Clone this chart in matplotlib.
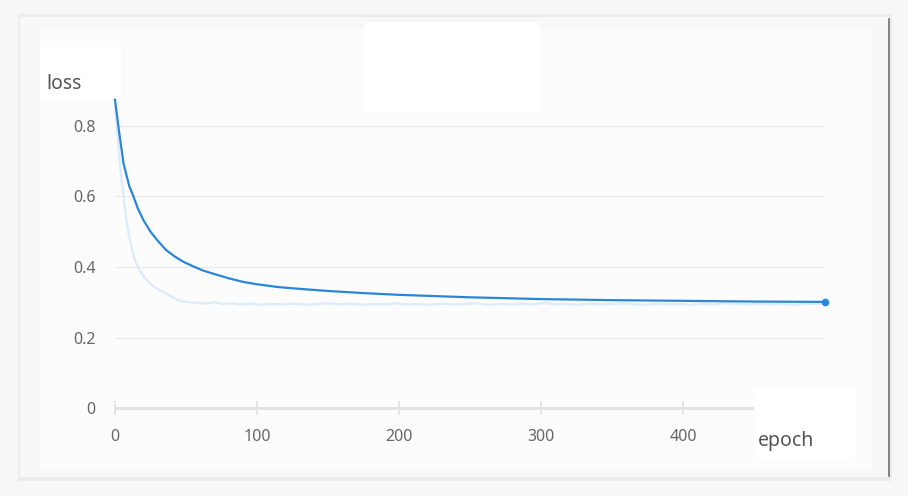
import matplotlib
matplotlib.use('Agg')
import matplotlib.pyplot as plt
from matplotlib.patches import Rectangle, FancyBboxPatch

plt.rcParams['font.family'] = ['Noto Sans', 'DejaVu Sans']

# courbe brute (pâle)
epochs_raw = [0, 2, 4, 6, 8, 10, 12, 14, 17, 20, 24, 28, 32, 36, 41, 45, 50, 55, 60,
              65, 70, 76, 82, 88, 95, 102, 110, 118, 126, 134, 142, 150, 158, 166,
              174, 182, 190, 198, 206, 214, 222, 230, 238, 246, 254, 262, 270, 278,
              286, 294, 302, 310, 318, 326, 334, 342, 350, 358, 366, 374, 382, 390,
              398, 406, 414, 422, 430, 438, 446, 454, 462, 470, 478, 486, 494, 500]
loss_raw = [0.862, 0.76, 0.67, 0.60, 0.535, 0.485, 0.45, 0.42, 0.392, 0.375, 0.356,
            0.342, 0.333, 0.325, 0.313, 0.305, 0.301, 0.299, 0.298, 0.296, 0.300,
            0.295, 0.297, 0.294, 0.296, 0.293, 0.295, 0.294, 0.296, 0.293, 0.295,
            0.297, 0.294, 0.296, 0.293, 0.295, 0.294, 0.297, 0.294, 0.295, 0.293,
            0.296, 0.294, 0.295, 0.297, 0.293, 0.295, 0.294, 0.296, 0.294, 0.298,
            0.294, 0.295, 0.293, 0.296, 0.294, 0.295, 0.297, 0.294, 0.293, 0.296,
            0.294, 0.295, 0.293, 0.296, 0.294, 0.297, 0.295, 0.294, 0.296, 0.294,
            0.295, 0.293, 0.296, 0.295, 0.296]

# courbe lissée
epochs_smooth = [0, 3, 6, 10, 13, 16, 20, 25, 30, 36, 42, 48, 55, 62, 70, 80, 90, 100,
                 115, 130, 150, 175, 200, 250, 300, 350, 400, 450, 500]
loss_smooth = [0.874, 0.78, 0.694, 0.63, 0.600, 0.567, 0.533, 0.50, 0.475, 0.448,
               0.43, 0.415, 0.402, 0.39, 0.38, 0.368, 0.358, 0.351, 0.343, 0.338,
               0.332, 0.326, 0.321, 0.314, 0.309, 0.306, 0.304, 0.302, 0.301]

x_ticks = [0, 100, 200, 300, 400]
y_ticks = [0, 0.2, 0.4, 0.6, 0.8]
y_labels = ['0', '0.2', '0.4', '0.6', '0.8']

W, H = 908, 496
fig = plt.figure(figsize=(W / 100, H / 100), dpi=100, facecolor='#f7f7f7')

# fond : carte + panneau
bg = fig.add_axes([0, 0, 1, 1], zorder=0)
bg.set_xlim(0, W)
bg.set_ylim(H, 0)
bg.axis('off')
bg.add_patch(Rectangle((18, 14), 874, 467, facecolor='#ececec', edgecolor='none'))
bg.add_patch(Rectangle((20, 17), 869, 460, facecolor='#f8f8f8', edgecolor='none'))
bg.plot([889, 889], [19, 476], color='#707070', lw=1.2)
bg.add_patch(Rectangle((40, 29), 832, 439, facecolor='#fcfcfc', edgecolor='none'))

# graphique
x0, x1 = 115, 825
y0 = 408
px_per_unit = 352.5
ymax = 0.9
ax = fig.add_axes([x0 / W, (H - y0) / H, (x1 - x0) / W, ymax * px_per_unit / H], zorder=1)
ax.patch.set_alpha(0)
ax.set_xlim(0, 500)
ax.set_ylim(0, ymax)

ax.plot(epochs_raw, loss_raw, color='#dcebfa', lw=1.6, clip_on=False, zorder=2)
ax.plot(epochs_smooth, loss_smooth, color='#2a86d9', lw=1.6, clip_on=False, zorder=3)
ax.plot(epochs_smooth[-1], loss_smooth[-1], 'o', color='#2a86d9', ms=4.5, clip_on=False, zorder=4)

for s in ['top', 'right', 'left']:
    ax.spines[s].set_visible(False)
ax.spines['bottom'].set_color('#e3e3e3')
ax.spines['bottom'].set_linewidth(2.2)
ax.spines['bottom'].set_zorder(1)

ax.set_yticks(y_ticks)
ax.set_yticklabels(y_labels)
ax.set_xticks(x_ticks)
ax.grid(axis='y', color='#eaeaea', lw=0.9, zorder=0)
ax.tick_params(axis='y', length=0, pad=14, labelsize=11.5, labelcolor='#666666')
ax.tick_params(axis='x', direction='inout', length=10, width=1.3, color='#e3e3e3',
               pad=10, labelsize=11.5, labelcolor='#666666')

# boîtes blanches et libellés des axes
ov = fig.add_axes([0, 0, 1, 1], zorder=5)
ov.set_xlim(0, W)
ov.set_ylim(H, 0)
ov.axis('off')
ov.patch.set_alpha(0)
ov.add_patch(FancyBboxPatch((366, 25), 171, 84, boxstyle='round,pad=3,rounding_size=6',
                            facecolor='white', edgecolor='none'))
ov.add_patch(Rectangle((40, 47), 81, 51, facecolor='white', edgecolor='none'))
ov.add_patch(FancyBboxPatch((756, 390), 98, 66, boxstyle='round,pad=2,rounding_size=5',
                            facecolor='white', edgecolor='none'))
ov.text(46, 84, 'loss', fontsize=14, color='#555555', ha='left', va='center')
ov.text(758, 441, 'epoch', fontsize=14, color='#555555', ha='left', va='center')

fig.savefig('out.png', dpi=100, facecolor=fig.get_facecolor())
